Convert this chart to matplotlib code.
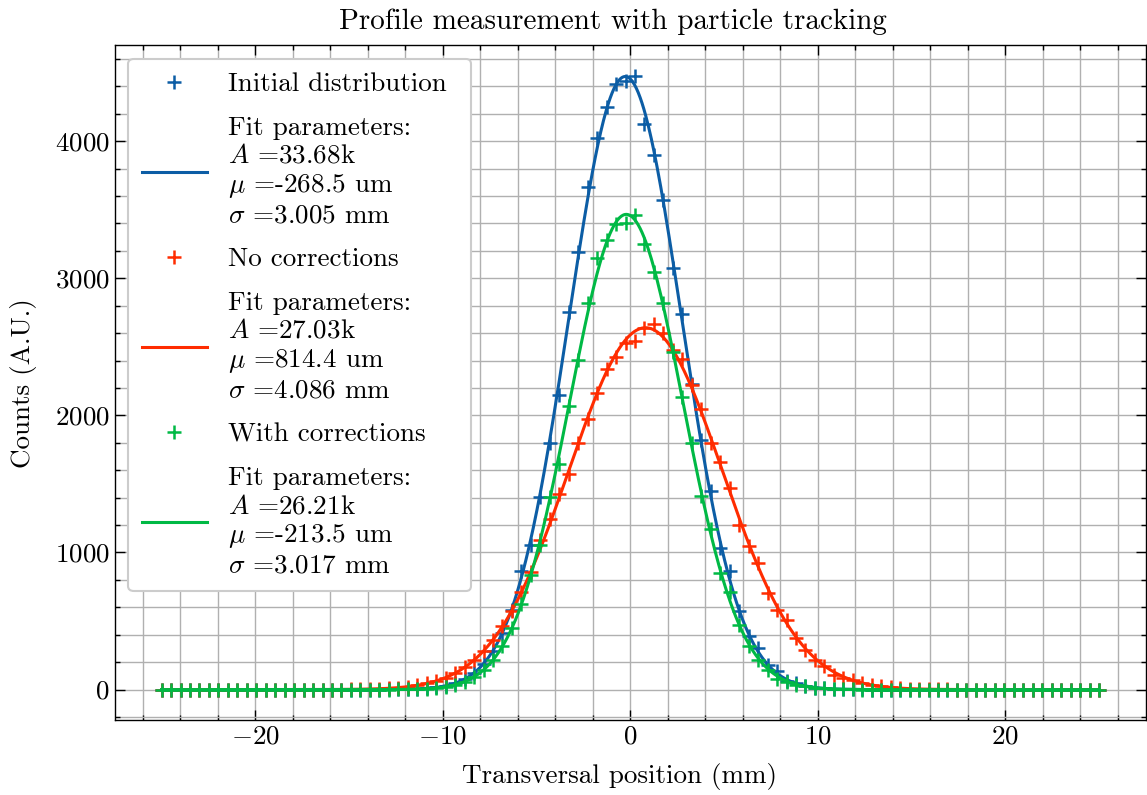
import numpy as np
import matplotlib
matplotlib.use("Agg")
import matplotlib.pyplot as plt

plt.rcParams.update({
    "font.family": "serif",
    "font.serif": ["cmr10"],
    "mathtext.fontset": "cm",
    "axes.formatter.use_mathtext": True,
    "font.size": 19.5,
    "axes.unicode_minus": True,
})

# ---- data ----
positions = np.linspace(-25, 25, 100)  # histogram bin centres (mm)

def pad(start, vals, n=100):
    out = [0] * n
    out[start:start + len(vals)] = vals
    return out

initial_counts = pad(24, [1, 1, 3, 5, 9, 16, 28, 47, 77, 122, 189, 284, 416, 580, 865,
                          1054, 1407, 1801, 2151, 2757, 3195, 3666, 4022, 4248, 4416,
                          4440, 4475, 4124, 3900, 3574, 3078, 2737, 2226, 1820, 1447,
                          1030, 864, 572, 389, 304, 182, 134, 60, 45, 27, 15, 9, 5, 3,
                          1, 1])
nocorr_counts = pad(20, [2, 3, 4, 6, 10, 14, 21, 31, 45, 63, 88, 120, 162, 215, 282, 363,
                         461, 576, 710, 861, 1090, 1246, 1423, 1572, 1801, 1976, 2166,
                         2341, 2426, 2531, 2540, 2637, 2669, 2599, 2477, 2414, 2224,
                         2044, 1800, 1659, 1467, 1204, 1046, 925, 706, 584, 511, 377,
                         292, 219, 175, 109, 85, 73, 48, 34, 23, 16, 11, 7, 5, 3, 2, 1])
withcorr_counts = pad(25, [1, 2, 4, 7, 12, 21, 36, 58, 93, 143, 216, 316, 449, 621, 835,
                           1054, 1407, 1645, 2071, 2401, 2823, 3151, 3282, 3399, 3405,
                           3462, 3253, 3046, 2823, 2462, 2134, 1796, 1411, 1168, 852,
                           710, 474, 321, 214, 146, 80, 55, 35, 23, 13, 8, 4, 2, 1])

# fit parameters (A, mu [mm], sigma [mm])
fit_initial = (33680, -0.2685, 3.005)
fit_nocorr = (27030, 0.8144, 4.086)
fit_withcorr = (26210, -0.2135, 3.017)

labels_data = ["Initial distribution", "No corrections", "With corrections"]
labels_fit = [
    "Fit parameters:\n$A$ =33.68k\n$\\mu$ =-268.5 um\n$\\sigma$ =3.005 mm",
    "Fit parameters:\n$A$ =27.03k\n$\\mu$ =814.4 um\n$\\sigma$ =4.086 mm",
    "Fit parameters:\n$A$ =26.21k\n$\\mu$ =-213.5 um\n$\\sigma$ =3.017 mm",
]
colors = ["#0C5DA5", "#FF2C00", "#00B945"]

def gauss(x, A, mu, s):
    return A / (s * np.sqrt(2 * np.pi)) * np.exp(-(x - mu) ** 2 / (2 * s ** 2))

fig, ax = plt.subplots(figsize=(11.47, 7.95), dpi=100)
xs = np.linspace(-25, 25, 1000)
for counts, fit, c, ld, lf in zip([initial_counts, nocorr_counts, withcorr_counts],
                                  [fit_initial, fit_nocorr, fit_withcorr],
                                  colors, labels_data, labels_fit):
    ax.plot(positions, counts, "+", color=c, ms=10, mew=1.8, label=ld)
    ax.plot(xs, gauss(xs, *fit), "-", color=c, lw=2.2, label=lf)

ax.set_title("Profile measurement with particle tracking", fontsize=21, pad=12, x=0.483)
ax.set_xlabel("Transversal position (mm)", labelpad=10, x=0.49)
ax.set_ylabel("Counts (A.U.)", labelpad=13)
ax.minorticks_on()
ax.xaxis.set_minor_locator(matplotlib.ticker.AutoMinorLocator(5))
ax.yaxis.set_minor_locator(matplotlib.ticker.AutoMinorLocator(5))
ax.grid(True, which="both", color="#b0b0b0", lw=1.0)
ax.set_axisbelow(True)
ax.tick_params(which="both", direction="in", top=True, right=True)
ax.tick_params(which="major", length=7, width=1.0)
ax.tick_params(which="minor", length=3.5, width=1.0)
for sp in ax.spines.values():
    sp.set_linewidth(1.0)

leg = ax.legend(loc="upper left", bbox_to_anchor=(0, 0, 0.359, 1), mode="expand",
                handlelength=2.4, framealpha=1.0, fancybox=True,
                edgecolor="#cccccc", labelspacing=0.74, borderpad=0.5,
                markerscale=0.95)
leg.get_frame().set_linewidth(1.5)

fig.subplots_adjust(left=0.1, right=0.999, top=0.943, bottom=0.094)
fig.savefig("out.png", dpi=100)
